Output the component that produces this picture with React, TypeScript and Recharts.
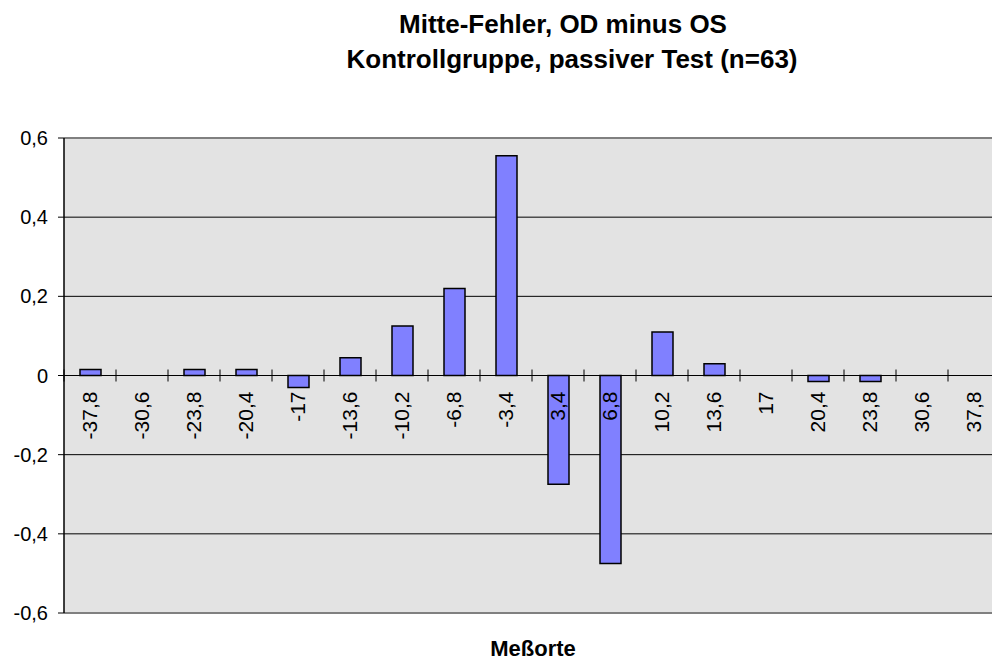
import { Bar, BarChart, CartesianGrid, ReferenceLine, XAxis, YAxis } from "recharts";

const categories = [
  "-37,8", "-30,6", "-23,8", "-20,4", "-17", "-13,6", "-10,2", "-6,8", "-3,4",
  "3,4", "6,8", "10,2", "13,6", "17", "20,4", "23,8", "30,6", "37,8",
];
const values = [
  0.015, 0, 0.015, 0.015, -0.03, 0.045, 0.125, 0.22, 0.555,
  -0.275, -0.475, 0.11, 0.03, 0, -0.015, -0.015, 0, 0,
];
const yTicks = [-0.6, -0.4, -0.2, 0, 0.2, 0.4, 0.6];

const data = categories.map((c, i) => ({ cat: c, v: values[i] }));

// layout
const W = 1000;
const H = 663;
const TOP = 138;
const BOTTOM = 50;
const LEFT = 64;
const PLOT_H = H - TOP - BOTTOM;
const PLOT_W = W - LEFT;
const BAND = PLOT_W / categories.length;
const Y_MIN = yTicks[0];
const Y_MAX = yTicks[yTicks.length - 1];
const ZERO_Y = TOP + (PLOT_H * Y_MAX) / (Y_MAX - Y_MIN);

const FONT = "'Liberation Sans', Arial, sans-serif";

function CatTick(props: any) {
  const { x, payload, index } = props;
  const bx = x + BAND / 2;
  return (
    <g>
      {index === 0 && (
        <line x1={x - BAND / 2} x2={x - BAND / 2} y1={ZERO_Y - 6} y2={ZERO_Y + 6} stroke="#000" />
      )}
      <line x1={bx} x2={bx} y1={ZERO_Y - 6} y2={ZERO_Y + 6} stroke="#000" />
      <text
        transform={`translate(${x},${ZERO_Y + 16}) rotate(-90)`}
        textAnchor="end"
        dy="0.35em"
        fontSize={21}
        fontFamily={FONT}
        fill="#000"
      >
        {payload.value}
      </text>
    </g>
  );
}

export default function App() {
  return (
    <div style={{ position: "relative", width: 992, height: 663, overflow: "hidden", background: "#fff", fontFamily: FONT }}>
      <style>{`body{margin:0}`}</style>
      <div style={{ position: "absolute", left: 0, top: 0 }}>
        <BarChart width={W} height={H} data={data} margin={{ top: TOP, right: 0, bottom: 0, left: 0 }} barSize={21}>
          <CartesianGrid vertical={false} stroke="#000" fill="#E3E3E3" fillOpacity={1} />
          <ReferenceLine y={Y_MAX} stroke="#808080" strokeWidth={2} />
          <ReferenceLine y={Y_MIN} stroke="#808080" strokeWidth={2} />
          <XAxis
            dataKey="cat"
            interval={0}
            height={BOTTOM}
            axisLine={false}
            tickLine={false}
            tick={CatTick}
          />
          <YAxis
            width={LEFT}
            domain={[Y_MIN, Y_MAX]}
            ticks={yTicks}
            interval={0}
            axisLine={{ stroke: "#000", strokeWidth: 1.5 }}
            tickLine={{ stroke: "#000" }}
            tickSize={6}
            tickMargin={10}
            tick={{ fontSize: 20, fill: "#000", fontFamily: FONT }}
            tickFormatter={(v: number) => String(v).replace(".", ",")}
          />
          <Bar dataKey="v" fill="#8080FF" stroke="#000" strokeWidth={1.5} isAnimationActive={false} />
        </BarChart>
      </div>
      <div style={{ position: "absolute", left: 563, top: 9, transform: "translateX(-50%)", whiteSpace: "nowrap", fontSize: 26, fontWeight: 700, lineHeight: "30px" }}>
        Mitte-Fehler, OD minus OS
      </div>
      <div style={{ position: "absolute", left: 572, top: 44, transform: "translateX(-50%)", whiteSpace: "nowrap", fontSize: 26, fontWeight: 700, lineHeight: "30px" }}>
        Kontrollgruppe, passiver Test (n=63)
      </div>
      <div style={{ position: "absolute", left: 533, top: 638, transform: "translateX(-50%)", whiteSpace: "nowrap", fontSize: 22, fontWeight: 700, lineHeight: "22px" }}>
        Meßorte
      </div>
    </div>
  );
}
